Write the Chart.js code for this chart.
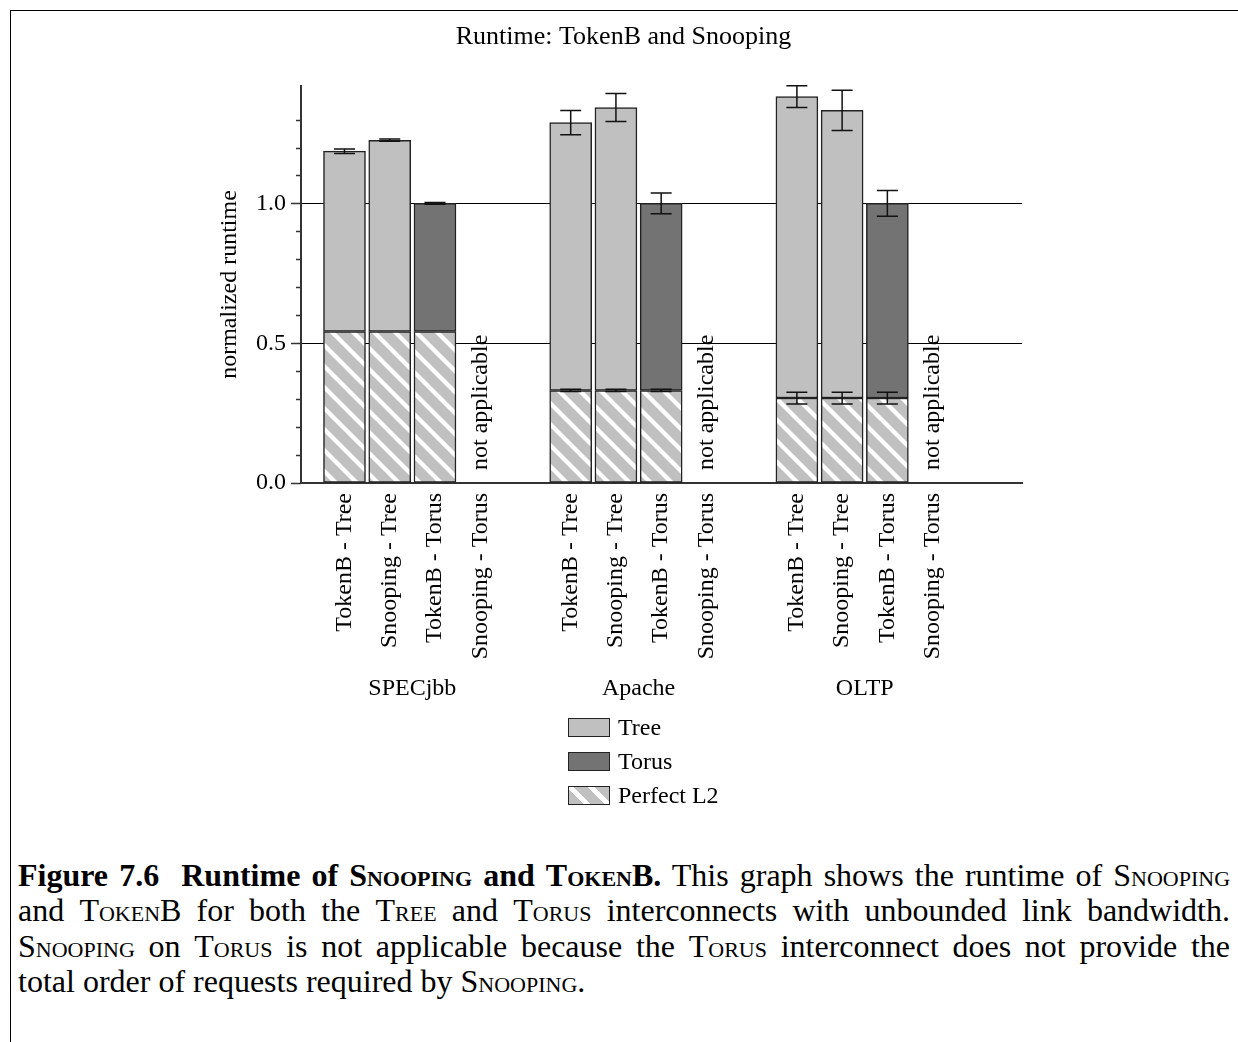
<!DOCTYPE html>
<html>
<head>
<meta charset="utf-8">
<script src="https://cdn.jsdelivr.net/npm/chart.js@4.4.1/dist/chart.umd.min.js"></script>
<style>
  body { margin: 0; background: #fff; font-family: 'Liberation Serif', 'Times New Roman', serif; color: #000; }
  #frame { position: absolute; left: 10px; top: 10px; width: 1240px; height: 1040px; border-left: 1.5px solid #000; border-top: 1.5px solid #000; }
  #chart { position: absolute; left: 0; top: 0; }
  .legend { position: absolute; left: 568px; top: 710px; font-size: 24px; }
  .legend-row { display: flex; align-items: center; height: 34.3px; }
  .swatch { width: 40px; height: 17px; border: 1.5px solid #222; margin-right: 8px; }
  .caption { position: absolute; left: 18px; top: 858px; width: 1212px; font-size: 32px; line-height: 35.3px; }
  .caption div { text-align: justify; text-align-last: justify; }
  .caption div.last { text-align-last: left; }
  .sc { font-variant: small-caps; }
</style>
</head>
<body>
<div id="frame"></div>
<canvas id="chart" width="1238" height="720"></canvas>
<div class="legend">
  <div class="legend-row"><span class="swatch" style="background:#c0c0c0"></span>Tree</div>
  <div class="legend-row"><span class="swatch" style="background:#737373"></span>Torus</div>
  <div class="legend-row"><span class="swatch" style="background:repeating-linear-gradient(45deg,#c0c0c0 0 10.5px,#fff 10.5px 14.85px)"></span>Perfect L2</div>
</div>
<div class="caption">
  <div><b>Figure 7.6&nbsp; Runtime of <span class="sc">Snooping</span> and <span class="sc">TokenB</span>.</b> This graph shows the runtime of <span class="sc">Snooping</span></div>
  <div>and <span class="sc">TokenB</span> for both the <span class="sc">Tree</span> and <span class="sc">Torus</span> interconnects with unbounded link bandwidth.</div>
  <div><span class="sc">Snooping</span> on <span class="sc">Torus</span> is not applicable because the <span class="sc">Torus</span> interconnect does not provide the</div>
  <div class="last">total order of requests required by <span class="sc">Snooping</span>.</div>
</div>
<script>
const groups = ['SPECjbb', 'Apache', 'OLTP'];
const configs = ['TokenB - Tree', 'Snooping - Tree', 'TokenB - Torus', 'Snooping - Torus'];
const tokenbTree = [1.187, 1.289, 1.382];
const tokenbTreeErr = [0.008, 0.043, 0.039];
const snoopingTree = [1.226, 1.343, 1.333];
const snoopingTreeErr = [0.004, 0.05, 0.072];
const tokenbTorus = [1.0, 1.0, 1.0];
const tokenbTorusErr = [0.003, 0.037, 0.046];
const perfectL2 = [0.542, 0.331, 0.304];
const perfectL2Err = [0, 0.004, 0.021];
const yLabels = ['0.0', '0.5', '1.0'];
const yMax = 1.42;
const naText = 'not applicable';

const serif = "'Liberation Serif', 'Times New Roman', serif";
Chart.defaults.font.family = serif;
Chart.defaults.color = '#000';

// 4 configs + one empty slot per group
const slotsPerGroup = configs.length + 1;
const slot = (g, c) => g * slotsPerGroup + c;
const slotLabels = [];
groups.forEach(() => {
  configs.forEach(c => slotLabels.push(c));
  slotLabels.push('');
});

const perfectData = groups.flatMap((g, i) => [0, 1, 2].map(c => ({ x: slot(i, c), y: perfectL2[i] })));
const treeData = groups.flatMap((g, i) => [
  { x: slot(i, 0), y: tokenbTree[i] - perfectL2[i] },
  { x: slot(i, 1), y: snoopingTree[i] - perfectL2[i] },
]);
const torusData = groups.map((g, i) => ({ x: slot(i, 2), y: tokenbTorus[i] - perfectL2[i] }));

const errorBars = groups.flatMap((g, i) => [
  { x: slot(i, 0), y: tokenbTree[i], err: tokenbTreeErr[i] },
  { x: slot(i, 1), y: snoopingTree[i], err: snoopingTreeErr[i] },
  { x: slot(i, 2), y: tokenbTorus[i], err: tokenbTorusErr[i] },
  ...[0, 1, 2].map(c => ({ x: slot(i, c), y: perfectL2[i], err: perfectL2Err[i] })),
]);

function makeHatch() {
  const size = 21;
  const c = document.createElement('canvas');
  c.width = size;
  c.height = size;
  const g = c.getContext('2d');
  g.fillStyle = '#c0c0c0';
  g.fillRect(0, 0, size, size);
  g.strokeStyle = '#fff';
  g.lineWidth = 4.3;
  for (let k = -1; k <= 1; k++) {
    g.beginPath();
    g.moveTo(-5, -5 + k * size);
    g.lineTo(size + 5, size + 5 + k * size);
    g.stroke();
  }
  return g.createPattern(c, 'repeat');
}

const yLabelFor = v => {
  const s = v.toFixed(1);
  return yLabels.includes(s) && Math.abs(v - parseFloat(s)) < 1e-6 ? s : '';
};

const extras = {
  id: 'extras',
  afterDatasetsDraw(chart) {
    const { ctx, scales: { x, y }, chartArea } = chart;
    ctx.save();
    ctx.strokeStyle = '#111';
    ctx.lineWidth = 1.5;
    errorBars.forEach(b => {
      if (!b.err) return;
      const px = x.getPixelForValue(b.x);
      const top = y.getPixelForValue(b.y + b.err);
      const bot = y.getPixelForValue(b.y - b.err);
      ctx.beginPath();
      ctx.moveTo(px, top); ctx.lineTo(px, bot);
      ctx.moveTo(px - 10.5, top); ctx.lineTo(px + 10.5, top);
      ctx.moveTo(px - 10.5, bot); ctx.lineTo(px + 10.5, bot);
      ctx.stroke();
    });

    // y tick marks: long at labelled values, short otherwise
    ctx.strokeStyle = '#333';
    ctx.lineWidth = 1.5;
    y.ticks.forEach(t => {
      if (t.value > 1.4 + 1e-6) return;
      const len = yLabelFor(t.value) ? 10 : 5;
      const py = Math.round(y.getPixelForValue(t.value)) + 0.5;
      ctx.beginPath();
      ctx.moveTo(chartArea.left - len, py);
      ctx.lineTo(chartArea.left, py);
      ctx.stroke();
    });

    ctx.fillStyle = '#000';
    ctx.font = `24px ${serif}`;
    groups.forEach((g, i) => {
      // not applicable marker in the Snooping - Torus slot
      const px = x.getPixelForValue(slot(i, 3));
      ctx.save();
      ctx.translate(px, y.getPixelForValue(0) - 13);
      ctx.rotate(-Math.PI / 2);
      ctx.textAlign = 'left';
      ctx.textBaseline = 'middle';
      ctx.fillText(naText, 0, 0);
      ctx.restore();

      ctx.textAlign = 'center';
      ctx.textBaseline = 'alphabetic';
      ctx.fillText(g, x.getPixelForValue(slot(i, 1.5)), 695);
    });
    ctx.restore();
  },
};

new Chart(document.getElementById('chart'), {
  type: 'bar',
  data: {
    datasets: [
      { label: 'Perfect L2', data: perfectData, backgroundColor: makeHatch() },
      { label: 'Tree', data: treeData, backgroundColor: '#c0c0c0' },
      { label: 'Torus', data: torusData, backgroundColor: '#737373' },
    ],
  },
  options: {
    responsive: false,
    animation: false,
    layout: { padding: { left: 225, right: 216, top: 10, bottom: 0 } },
    datasets: {
      bar: { barThickness: 42, borderColor: '#222', borderWidth: 1.5, borderSkipped: false },
    },
    plugins: {
      legend: { display: false },
      tooltip: { enabled: false },
      title: {
        display: true,
        text: 'Runtime: TokenB and Snooping',
        color: '#000',
        font: { size: 26, weight: 'normal' },
        padding: { top: 12, bottom: 32.8 },
      },
    },
    scales: {
      x: {
        type: 'linear',
        stacked: true,
        offset: false,
        min: -0.9615,
        max: 14.976,
        grid: { display: false, drawTicks: false },
        border: { color: '#333', width: 2 },
        ticks: {
          stepSize: 1,
          autoSkip: false,
          maxRotation: 90,
          minRotation: 90,
          padding: 10,
          color: '#000',
          font: { size: 24 },
          callback: v => (Number.isInteger(v) && slotLabels[v]) || '',
        },
        afterFit: s => { s.height = 237; },
      },
      y: {
        stacked: true,
        min: 0,
        max: yMax,
        grid: {
          drawTicks: false,
          lineWidth: 1,
          color: c => (c.tick && c.tick.value > 0 && yLabelFor(c.tick.value)) ? '#000' : 'rgba(0,0,0,0)',
        },
        border: { color: '#333', width: 2 },
        ticks: {
          stepSize: 0.1,
          autoSkip: false,
          padding: 15,
          color: '#000',
          font: { size: 24 },
          callback: v => yLabelFor(v),
        },
        title: {
          display: true,
          text: 'normalized runtime',
          color: '#000',
          font: { size: 24 },
          padding: { top: -10, bottom: 0 },
        },
        afterFit: s => { s.width = 76; },
      },
    },
  },
  plugins: [extras],
});
</script>
</body>
</html>
